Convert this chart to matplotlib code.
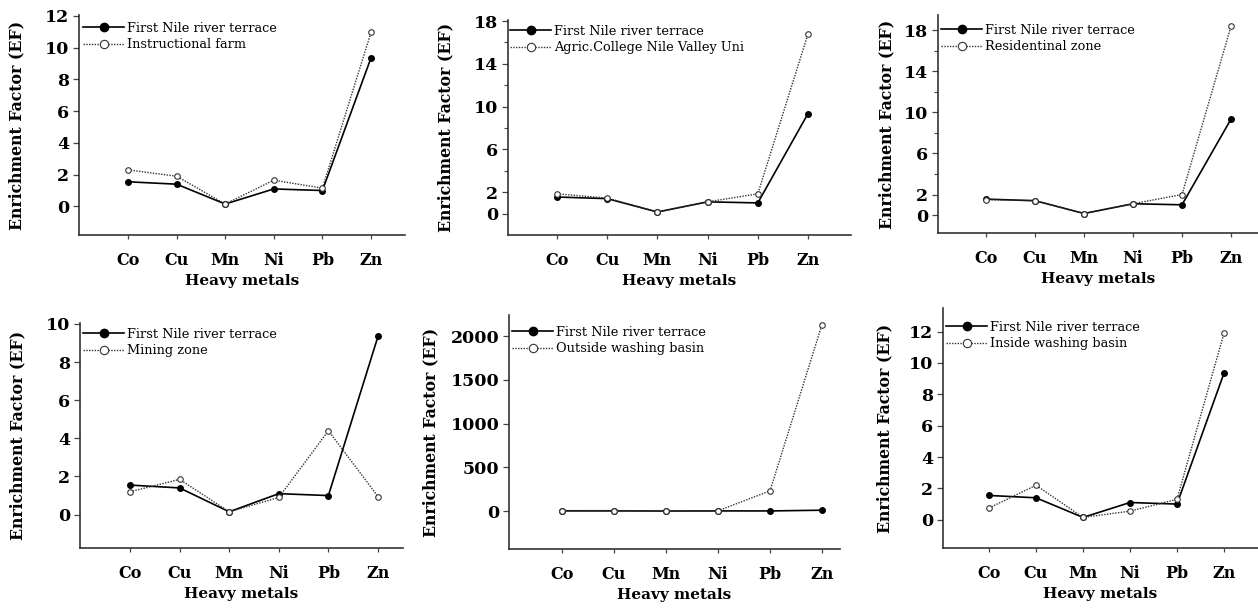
import matplotlib
matplotlib.use('Agg')
import matplotlib.pyplot as plt
from matplotlib.ticker import FixedLocator

metals = ['Co', 'Cu', 'Mn', 'Ni', 'Pb', 'Zn']
terrace = [1.55, 1.4, 0.15, 1.1, 1.0, 9.35]
terrace_label = 'First Nile river terrace'

farm = [2.3, 1.9, 0.15, 1.65, 1.15, 10.95]
college = [1.85, 1.45, 0.15, 1.1, 1.85, 16.8]
residential = [1.5, 1.4, 0.15, 1.1, 2.0, 18.4]
mining = [1.2, 1.85, 0.15, 0.9, 4.4, 0.95]
outside = [5, 5, 0.5, 3, 230, 2130]
inside = [0.75, 2.2, 0.15, 0.55, 1.3, 11.9]

site_labels = ['Instructional farm', 'Agric.College Nile Valley Uni', 'Residentinal zone',
               'Mining zone', 'Outside washing basin', 'Inside washing basin']
site_values = [farm, college, residential, mining, outside, inside]

# y ticks (major labelled, minor unlabelled)
major_ticks = [[0, 2, 4, 6, 8, 10, 12], [0, 2, 6, 10, 14, 18], [0, 2, 6, 10, 14, 18],
               [0, 2, 4, 6, 8, 10], [0, 500, 1000, 1500, 2000], [0, 2, 4, 6, 8, 10, 12]]
minor_ticks = [[], [4, 8, 12, 16], [4, 8, 12, 16], [], [], []]

W, H = 1258, 608
# pixel boxes: left, top, right, bottom ; x of Co tick ; tick spacing ; ylim ; legend (x, top) ; ylabel centre x
boxes = [
    (79, 15, 405, 235, 128, 48.6, (-1.8, 12.05), (83, 22), 18),
    (508, 20, 851, 235, 557, 50.2, (-2.0, 18.1), (510, 25), 447),
    (938, 15, 1258, 233, 986, 49.0, (-1.75, 19.5), (941, 24), 888),
    (80, 323, 403, 548, 130, 49.6, (-1.75, 10.05), (83, 328), 19),
    (509, 315, 840, 549, 562, 52.0, (-434, 2240), (512, 326), 432),
    (943, 308, 1258, 548, 989, 47.0, (-1.8, 13.5), (946, 321), 886),
]

serif = 'DejaVu Serif'
fig = plt.figure(figsize=(W / 100, H / 100), dpi=100)

for i, (l, t, r, b, co, sp, ylim, leg, ylx) in enumerate(boxes):
    ax = fig.add_axes([l / W, 1 - b / H, (r - l) / W, (b - t) / H])
    x = list(range(len(metals)))
    ax.plot(x, terrace, color='black', linewidth=1.2, marker='o', markersize=4,
            markerfacecolor='black', label=terrace_label)
    ax.plot(x, site_values[i], color='#333333', linewidth=1.0, linestyle=(0, (1, 1)),
            marker='o', markersize=4, markerfacecolor='white', markeredgewidth=0.8,
            label=site_labels[i])
    ax.set_xlim((l - co) / sp, (r - co) / sp)
    ax.set_ylim(*ylim)
    ax.set_xticks(x)
    ax.set_xticklabels(metals, fontsize=11.5, fontweight='bold', family=serif)
    ax.yaxis.set_major_locator(FixedLocator(major_ticks[i]))
    ax.set_yticklabels([str(v) for v in major_ticks[i]], fontsize=12.5,
                       fontweight='bold', family=serif)
    if minor_ticks[i]:
        ax.yaxis.set_minor_locator(FixedLocator(minor_ticks[i]))
        ax.tick_params(axis='y', which='minor', length=3, width=0.8, color='#444444')
    ax.tick_params(axis='y', which='major', length=4, width=0.9, color='#444444', pad=3)
    ax.tick_params(axis='x', length=3, width=0.9, color='#444444', pad=9)
    for s in ['top', 'right']:
        ax.spines[s].set_visible(False)
    for s in ['left', 'bottom']:
        ax.spines[s].set_linewidth(1.2)
        ax.spines[s].set_color('#333333')
    ax.set_xlabel('Heavy metals', fontsize=11, fontweight='bold', family=serif, labelpad=4)
    ax.set_ylabel('Enrichment Factor (EF)', fontsize=11.3, fontweight='bold', family=serif)
    ax.yaxis.set_label_coords((ylx + 7 - l) / (r - l), 0.5)
    ax.legend(loc='upper left', bbox_to_anchor=(leg[0] / W, 1 - leg[1] / H),
              bbox_transform=fig.transFigure, frameon=False, borderpad=0,
              borderaxespad=0, handlelength=3.2, handletextpad=0.2, labelspacing=0.25,
              markerscale=1.5, prop={'family': serif, 'size': 9.3})

fig.savefig('out.png', dpi=100)
